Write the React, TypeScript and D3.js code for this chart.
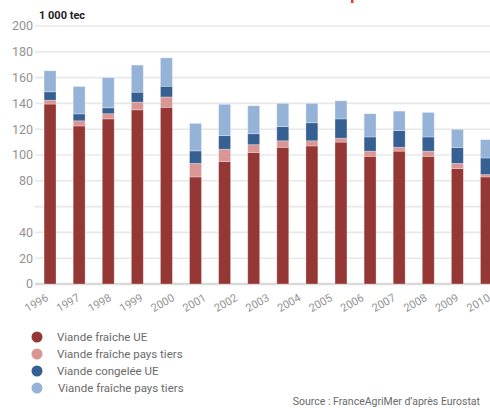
import { useMemo } from 'react';
import * as d3 from 'd3';

// années des barres (la dernière barre n'a pas d'étiquette sur l'original)
const barYears = ['1996', '1997', '1998', '1999', '2000', '2001', '2002', '2003', '2004', '2005', '2006', '2007', '2008', '2009', '2010', '2011'];
const axisLabels = ['1996', '1997', '1998', '1999', '2000', '2001', '2002', '2003', '2004', '2005', '2006', '2007', '2008', '2009', '2010'];

const fraicheUE = [139.5, 122.5, 128, 135, 137, 83, 95, 102, 106, 107, 110, 99, 103, 99, 89.5, 83];
const fraicheTiers = [3, 4, 4, 6, 8, 10.5, 9.5, 6, 5, 4, 3, 4, 3, 4, 4, 1.8];
const congeleeUE = [6.5, 5.4, 4.6, 7.7, 8.3, 9.7, 10.5, 8.5, 11, 14, 15, 11, 13, 11, 12.4, 12.9];
const fraicheTiers2 = [16.3, 21.2, 23.3, 21, 22, 21.3, 24.3, 21.7, 18, 15, 14, 18, 15, 19, 14, 14.2];

const yTicks = [0, 20, 40, 60, 80, 100, 120, 140, 160, 180, 200];
const yLabels = [0, 20, 40, 80, 100, 120, 140, 160, 180, 200];

const seriesNames = ['Viande fraîche UE', 'Viande fraîche pays tiers', 'Viande congelée UE', 'Viande fraîche pays tiers'];
const seriesColors = ['#953735', '#da9694', '#376092', '#95b3d7'];

const W = 490;
const H = 408;

export default function App() {
  const rows = useMemo(
    () =>
      barYears.map((year, i) => ({
        year,
        s0: fraicheUE[i],
        s1: fraicheTiers[i],
        s2: congeleeUE[i],
        s3: fraicheTiers2[i],
      })),
    []
  );

  const stacked = d3.stack<(typeof rows)[0]>().keys(['s0', 's1', 's2', 's3'])(rows);

  const x = d3.scaleBand<string>().domain(barYears).range([35.5, 501]).paddingInner(0.59).paddingOuter(0.295);
  const xLab = d3.scalePoint<string>().domain(axisLabels).range([38, 480]);
  const y = d3.scaleLinear().domain([0, 200]).range([284, 26]);

  const font = 'Roboto, "Open Sans", sans-serif';

  return (
    <svg width={W} height={H} style={{ position: 'absolute', left: 0, top: 0, background: '#fff' }} fontFamily={font}>
      {/* grille */}
      {yTicks.map(t => (
        <line key={t} x1={35} x2={W} y1={y(t)} y2={y(t)} stroke={t === 0 ? '#d9d9d9' : '#e8e8e8'} strokeWidth={t === 0 ? 2.5 : 1.6} />
      ))}
      {yLabels.map(t => (
        <text key={t} x={33} y={y(t)} dy="0.35em" textAnchor="end" fontSize={12.5} fill="#939393">
          {t}
        </text>
      ))}

      <text x={39} y={19} fontSize={11} fontWeight="bold" fill="#222">1 000 tec</text>
      <rect x={351} y={0} width={2.5} height={3} fill="#e03a3e" />

      {/* barres empilées */}
      {stacked.map((serie, si) => (
        <g key={si} fill={seriesColors[si]}>
          {serie.map(d => (
            <rect
              key={d.data.year}
              x={x(d.data.year)}
              y={y(d[1])}
              width={x.bandwidth()}
              height={y(d[0]) - y(d[1])}
              stroke="rgba(255,255,255,0.35)"
              strokeWidth={0.8}
            />
          ))}
        </g>
      ))}

      {/* étiquettes des années */}
      {axisLabels.map(l => {
        const lx = (xLab(l) ?? 0) + 11;
        const ly = 300;
        return (
          <text key={l} x={lx} y={ly} textAnchor="end" fontSize={11} fill="#939393" transform={`rotate(-30 ${lx} ${ly})`}>
            {l}
          </text>
        );
      })}

      {/* légende */}
      {seriesNames.map((name, i) => (
        <g key={i} transform={`translate(37, ${337 + i * 17})`}>
          <circle r={5.5} fill={seriesColors[i]} />
          <text x={20 + (i === 3 ? 1 : 0)} dy="0.35em" fontSize={11.5} fill="#6a6a6a">{name}</text>
        </g>
      ))}

      <text x={480} y={405} textAnchor="end" fontSize={10.5} fill="#6a6a6a">Source : FranceAgriMer d’après Eurostat</text>
    </svg>
  );
}
